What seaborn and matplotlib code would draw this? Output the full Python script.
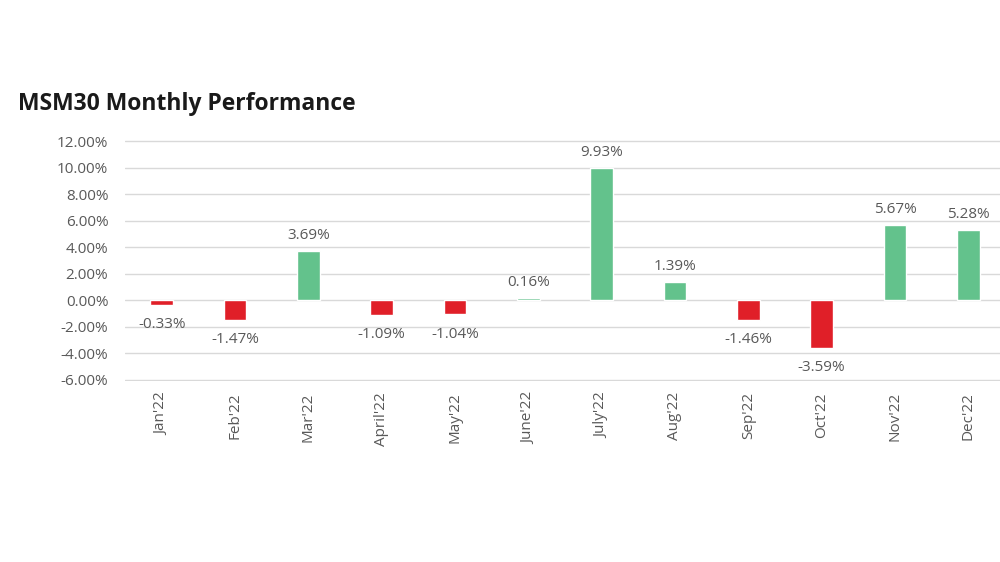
import matplotlib
matplotlib.use("Agg")
import matplotlib.pyplot as plt
import seaborn as sns
import pandas as pd
from matplotlib.ticker import FuncFormatter

# Data
MONTHS = ["Jan'22", "Feb'22", "Mar'22", "April'22", "May'22", "June'22",
          "July'22", "Aug'22", "Sep'22", "Oct'22", "Nov'22", "Dec'22"]
RETURNS = [-0.33, -1.47, 3.69, -1.09, -1.04, 0.16, 9.93, 1.39, -1.46, -3.59, 5.67, 5.28]

GREEN = '#63c28c'
RED = '#e01f28'
GREY = '#595959'

sns.set_style("white")
plt.rcParams['font.family'] = ['Open Sans', 'DejaVu Sans']

df = pd.DataFrame({'month': MONTHS, 'ret': RETURNS})
df['sign'] = ['up' if r >= 0 else 'down' for r in RETURNS]

fig = plt.figure(figsize=(10, 5.62), dpi=100)
ax = fig.add_axes([0.125, 0.322, 0.88, 0.429])

sns.barplot(data=df, x='month', y='ret', hue='sign', palette={'up': GREEN, 'down': RED},
            dodge=False, width=0.31, saturation=1, legend=False, ax=ax, zorder=3)

ax.set_ylim(-6.08, 12.08)
ax.set_yticks(range(-6, 13, 2))
ax.yaxis.set_major_formatter(FuncFormatter(lambda v, p: f"{v:.2f}%"))
ax.grid(axis='y', color='#d9d9d9', linewidth=1, zorder=0)
ax.set_axisbelow(True)
for s in ax.spines.values():
    s.set_visible(False)
ax.set_xlabel('')
ax.set_ylabel('')
ax.tick_params(axis='both', length=0, colors=GREY, labelsize=11)
ax.tick_params(axis='y', pad=12)
ax.tick_params(axis='x', pad=8)
plt.setp(ax.get_xticklabels(), rotation=90)
ax.set_xlim(-0.5, len(MONTHS) - 0.5)

for i, r in enumerate(RETURNS):
    if r >= 0:
        ax.annotate(f"{r:.2f}%", (i, r), xytext=(0, 6), textcoords='offset points',
                    ha='center', va='bottom', fontsize=11, color=GREY)
    else:
        ax.annotate(f"{r:.2f}%", (i, r), xytext=(0, -9), textcoords='offset points',
                    ha='center', va='top', fontsize=11, color=GREY)

fig.text(0.018, 0.815, "MSM30 Monthly Performance", fontsize=16.5, fontweight='bold',
         color='#1a1a1a', ha='left', va='center')

fig.savefig('out.png', dpi=100)
